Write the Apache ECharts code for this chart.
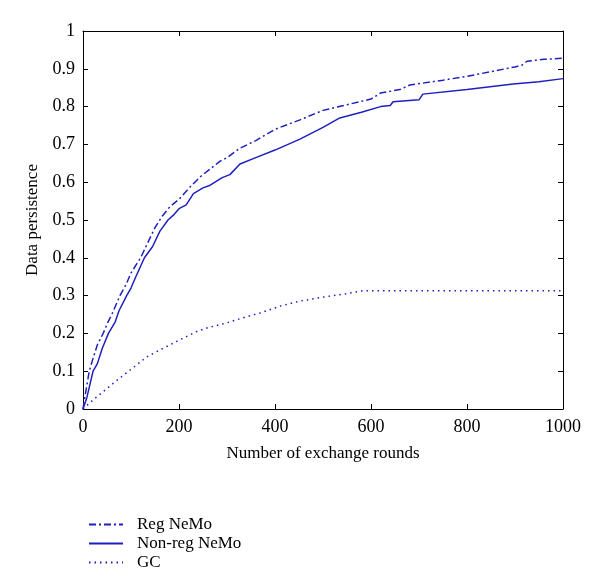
<!DOCTYPE html>
<html>
<head>
<meta charset="utf-8">
<script src="https://cdn.jsdelivr.net/npm/echarts@6/dist/echarts.min.js"></script>
<style>
  html, body { margin: 0; padding: 0; background: #fff; }
  #chart { width: 600px; height: 579px; }
</style>
</head>
<body>
<div id="chart"></div>
<script>
// exchange rounds vs data persistence
var regRounds = [0, 5, 13, 20, 30, 42, 52, 60, 77, 90, 100, 120, 135, 150, 165, 181, 200, 225, 245, 265, 285, 300, 327, 360, 400, 452, 500, 550, 600, 620, 660, 681, 750, 800, 848, 900, 915, 925, 960, 1000];
var regValues = [0, 0.04, 0.1, 0.13, 0.17, 0.2, 0.23, 0.25, 0.3, 0.33, 0.36, 0.4, 0.44, 0.48, 0.51, 0.535, 0.555, 0.59, 0.615, 0.635, 0.655, 0.665, 0.69, 0.71, 0.74, 0.765, 0.79, 0.805, 0.82, 0.836, 0.845, 0.857, 0.87, 0.88, 0.892, 0.905, 0.91, 0.92, 0.925, 0.928];

var nonRegRounds = [0, 8, 21, 30, 40, 53, 60, 67, 75, 91, 100, 110, 128, 145, 160, 177, 190, 200, 215, 230, 250, 265, 290, 306, 327, 360, 400, 452, 500, 535, 580, 620, 640, 646, 700, 708, 800, 896, 950, 1000];
var nonRegValues = [0, 0.03, 0.1, 0.12, 0.16, 0.2, 0.215, 0.23, 0.26, 0.3, 0.32, 0.35, 0.4, 0.43, 0.47, 0.5, 0.515, 0.53, 0.54, 0.57, 0.585, 0.592, 0.612, 0.62, 0.648, 0.665, 0.685, 0.714, 0.745, 0.77, 0.785, 0.8, 0.803, 0.813, 0.818, 0.833, 0.845, 0.86, 0.866, 0.874];

var gcRounds = [0, 21, 63, 100, 133, 160, 200, 237, 260, 300, 330, 369, 410, 450, 500, 550, 583, 1000];
var gcValues = [0, 0.024, 0.068, 0.105, 0.138, 0.156, 0.182, 0.205, 0.215, 0.228, 0.24, 0.254, 0.272, 0.285, 0.296, 0.305, 0.313, 0.313];

var seriesNames = ["Reg NeMo", "Non-reg NeMo", "GC"];

function pairs(xs, ys) {
  return xs.map(function (x, i) { return [x, ys[i]]; });
}

var chart = echarts.init(document.getElementById("chart"));
var blue = "#1f1fc0";
var font = "Liberation Serif";

var baseAxis = {
  axisLine: { show: true, onZero: false, lineStyle: { color: "#000", width: 1 } },
  axisTick: { show: true, inside: true, length: 5, lineStyle: { color: "#000" } },
  splitLine: { show: false }
};

var option = {
  animation: false,
  backgroundColor: "#fff",
  grid: { left: 83, right: 37, top: 31, bottom: 170 },
  legend: {
    orient: "vertical",
    left: 83,
    top: 511,
    height: 66,
    itemWidth: 34,
    itemHeight: 14,
    itemGap: 2,
    itemStyle: { opacity: 0 },
    textStyle: { fontFamily: font, fontSize: 17, color: "#000", padding: [0, 0, 0, 9] },
    data: seriesNames
  },
  xAxis: [
    Object.assign({}, baseAxis, {
      type: "value", min: 0, max: 1000, interval: 200,
      name: "Number of exchange rounds", nameLocation: "middle", nameGap: 36,
      nameTextStyle: { fontFamily: font, fontSize: 17, color: "#000" },
      axisLabel: { fontFamily: font, fontSize: 18, color: "#000", margin: 9,
        formatter: function (v) { return String(v); } }
    }),
    Object.assign({}, baseAxis, {
      type: "value", min: 0, max: 1000, interval: 200, position: "top",
      axisLabel: { show: false }
    })
  ],
  yAxis: [
    Object.assign({}, baseAxis, {
      type: "value", min: 0, max: 1, interval: 0.1,
      name: "Data persistence", nameLocation: "middle", nameGap: 42, nameRotate: 90,
      nameTextStyle: { fontFamily: font, fontSize: 17, color: "#000" },
      axisLabel: { fontFamily: font, fontSize: 18, color: "#000", margin: 8 }
    }),
    Object.assign({}, baseAxis, {
      type: "value", min: 0, max: 1, interval: 0.1, position: "right",
      axisLabel: { show: false }
    })
  ],
  series: [
    {
      name: seriesNames[0], type: "line", symbol: "none",
      lineStyle: { color: blue, width: 1.5, type: [7, 3, 2, 3] },
      itemStyle: { color: blue },
      data: pairs(regRounds, regValues)
    },
    {
      name: seriesNames[1], type: "line", symbol: "none",
      lineStyle: { color: blue, width: 1.5, type: "solid" },
      itemStyle: { color: blue },
      data: pairs(nonRegRounds, nonRegValues)
    },
    {
      name: seriesNames[2], type: "line", symbol: "none",
      lineStyle: { color: blue, width: 1.5, type: [1.5, 4] },
      itemStyle: { color: blue },
      data: pairs(gcRounds, gcValues)
    }
  ]
};

chart.setOption(option);
</script>
</body>
</html>
